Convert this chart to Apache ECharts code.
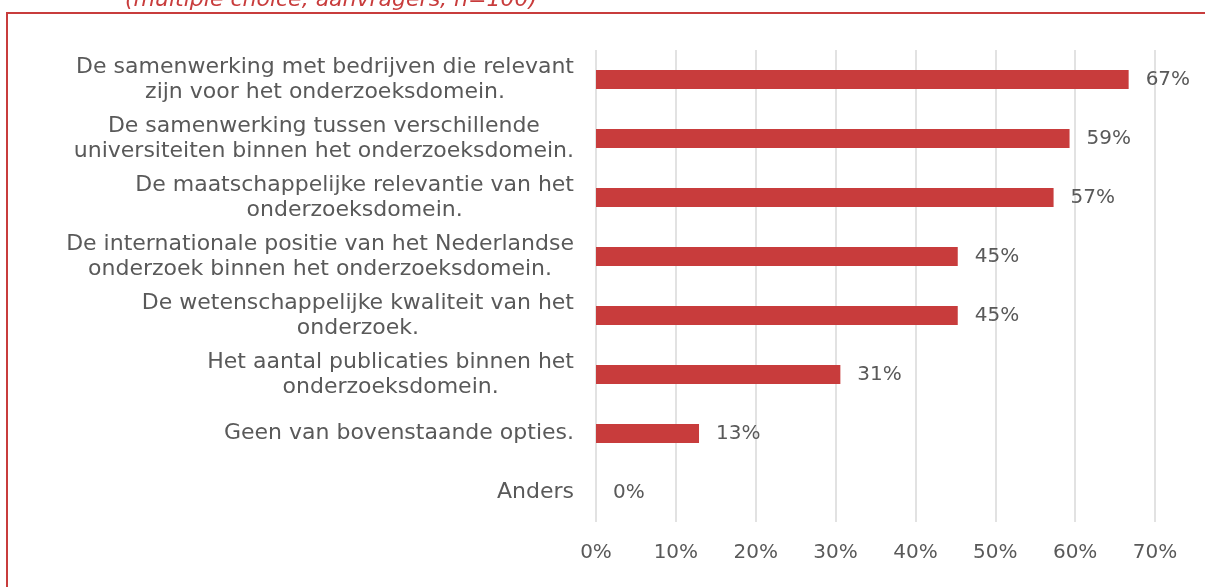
<!DOCTYPE html>
<html>
<head>
<meta charset="utf-8">
<script src="https://cdn.jsdelivr.net/npm/echarts@6/dist/echarts.min.js"></script>
<style>html,body{margin:0;padding:0;background:#fff;}#c{width:1205px;height:587px;}</style>
</head>
<body>
<div id="c"></div>
<script>
const categories = [
  "De samenwerking met bedrijven die relevant\nzijn voor het onderzoeksdomein.",
  "De samenwerking tussen verschillende\nuniversiteiten binnen het onderzoeksdomein.",
  "De maatschappelijke relevantie van het\nonderzoeksdomein.",
  "De internationale positie van het Nederlandse\nonderzoek binnen het onderzoeksdomein.",
  "De wetenschappelijke kwaliteit van het\nonderzoek.",
  "Het aantal publicaties binnen het\nonderzoeksdomein.",
  "Geen van bovenstaande opties.",
  "Anders"
];
const values = [66.7, 59.3, 57.3, 45.3, 45.3, 30.6, 12.9, 0];
const tickValues = [0, 10, 20, 30, 40, 50, 60, 70];
const subtitle = "(multiple choice, aanvragers, n=100)";

const FONT = "DejaVu Sans";
const GREY = "#595959";
const RED = "#c83c3c";

const chart = echarts.init(document.getElementById('c'));
chart.setOption({
  animation: false,
  title: {
    text: subtitle,
    left: 120,
    top: -16,
    textStyle: { color: RED, fontStyle: 'italic', fontWeight: 'normal', fontSize: 22, fontFamily: FONT }
  },
  graphic: [{
    type: 'rect',
    shape: { x: 7, y: 13, width: 1400, height: 800 },
    style: { fill: 'none', stroke: RED, lineWidth: 2 },
    silent: true
  }],
  grid: { left: 596, right: 50, top: 50, bottom: 65, containLabel: false },
  xAxis: {
    type: 'value',
    min: tickValues[0],
    max: tickValues[tickValues.length - 1],
    interval: 10,
    axisLine: { show: false },
    axisTick: { show: false },
    splitLine: { show: true, showMinLine: true, lineStyle: { color: '#d9d9d9', width: 1.5 } },
    axisLabel: { color: GREY, fontSize: 20, fontFamily: FONT, margin: 21, formatter: v => v + '%' }
  },
  yAxis: {
    type: 'category',
    inverse: true,
    data: categories,
    axisLine: { show: false },
    axisTick: { show: false },
    axisLabel: {
      margin: 22,
      align: 'right',
      lineHeight: 25,
      color: GREY, fontSize: 22, fontFamily: FONT,
      formatter: v => v.split('\n').map(l => '{c|' + l + '}').join('\n'),
      rich: { c: { align: 'center', color: GREY, fontSize: 22, fontFamily: FONT, lineHeight: 25 } }
    }
  },
  series: [{
    type: 'bar',
    data: values,
    barWidth: 19,
    itemStyle: { color: RED },
    label: {
      show: true,
      position: 'right',
      distance: 17,
      color: GREY, fontSize: 20, fontFamily: FONT,
      formatter: p => Math.round(p.value) + '%'
    }
  }]
});
</script>
</body>
</html>
